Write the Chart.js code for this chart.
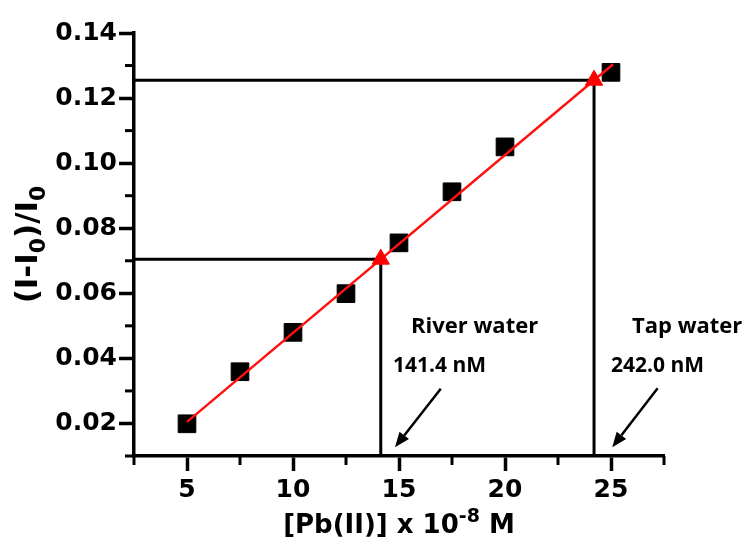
<!DOCTYPE html>
<html><head><meta charset="utf-8">
<script src="https://cdn.jsdelivr.net/npm/chart.js@4.4.1/dist/chart.umd.min.js"></script>
<style>html,body{margin:0;padding:0;background:#fff}#wrap{width:747px;height:548px}</style>
</head><body><div id="wrap"><canvas id="c" width="747" height="548"></canvas></div>
<script>
// ---- data ----
const concX = [5, 7.5, 10, 12.5, 15, 17.5, 20, 25];
const ratioY = [0.0199, 0.0359, 0.0480, 0.0599, 0.0755, 0.0912, 0.1050, 0.1279];
const fitX = [5.0, 25.1];
const fitY = [0.0205, 0.1304];
const sampleNames = ['River water', 'Tap water'];
const sampleLabels = ['141.4 nM', '242.0 nM'];
const sampleX = [14.14, 24.20];
const sampleY = [0.0705, 0.1255];
const xTicks = [5, 10, 15, 20, 25];
const xMinorTicks = [2.5, 7.5, 12.5, 17.5, 22.5, 27.5];
const yTicks = [0.02, 0.04, 0.06, 0.08, 0.10, 0.12, 0.14];
const yMinorTicks = [0.01, 0.03, 0.05, 0.07, 0.09, 0.11, 0.13];
const xRange = [2.5, 27.5];
const yRange = [0.01, 0.14];
// annotation anchors (data units)
const nameAnchorX = [15.57, 25.99];
const nameAnchorY = [0.0478, 0.0478];
const valueAnchorX = [14.72, 25.0];
const valueAnchorY = [0.0358, 0.0358];
const arrowTailX = [16.97, 27.2];
const arrowTailY = [0.0307, 0.0308];
const arrowHeadX = [14.81, 25.06];
const arrowHeadY = [0.0127, 0.0127];

const AXIS_FONT = '"DejaVu Sans", sans-serif';

const pts = (xs, ys) => xs.map((x, i) => ({x, y: ys[i]}));

const guideSets = sampleX.map((sx, i) => ({
  type: 'scatter', showLine: true,
  data: [{x: xRange[0], y: sampleY[i]}, {x: sx, y: sampleY[i]}, {x: sx, y: yRange[0]}],
  borderColor: '#000', borderWidth: 3, pointRadius: 0, fill: false, order: 3, clip: false
}));

const extras = {
  id: 'extras',
  afterDraw(chart) {
    const ctx = chart.ctx, xs = chart.scales.x, ys = chart.scales.y, ca = chart.chartArea;
    ctx.save();
    // minor ticks
    ctx.strokeStyle = '#000'; ctx.lineWidth = 3; ctx.lineCap = 'butt';
    xMinorTicks.forEach(v => {
      const p = xs.getPixelForValue(v);
      ctx.beginPath(); ctx.moveTo(p, ca.bottom); ctx.lineTo(p, ca.bottom + 9); ctx.stroke();
    });
    yMinorTicks.forEach(v => {
      const p = ys.getPixelForValue(v);
      ctx.beginPath(); ctx.moveTo(ca.left, p); ctx.lineTo(ca.left - 9, p); ctx.stroke();
    });
    // x title
    ctx.fillStyle = '#000';
    ctx.textBaseline = 'alphabetic';
    const big = 'bold 26px ' + AXIS_FONT, small = 'bold 19px ' + AXIS_FONT;
    const segsX = [['[Pb(II)] x 10', big, 0], ['-8', small, -11], [' M', big, 0]];
    let w = 0;
    segsX.forEach(s => { ctx.font = s[1]; w += ctx.measureText(s[0]).width; });
    let cx = (ca.left + ca.right) / 2 - w / 2;
    const by = ca.bottom + 77;
    segsX.forEach(s => { ctx.font = s[1]; ctx.textAlign = 'left'; ctx.fillText(s[0], cx, by + s[2]); cx += ctx.measureText(s[0]).width; });
    // y title (rotated)
    const bigY = 'bold 31px ' + AXIS_FONT, smallY = 'bold 22px ' + AXIS_FONT;
    const segsY = [['(I-I', bigY, 0], ['0', smallY, 8], [')/I', bigY, 0], ['0', smallY, 8]];
    ctx.save();
    ctx.translate(ca.left - 97, (ca.top + ca.bottom) / 2);
    ctx.rotate(-Math.PI / 2);
    w = 0;
    segsY.forEach(s => { ctx.font = s[1]; w += ctx.measureText(s[0]).width; });
    let tx = -w / 2;
    segsY.forEach(s => { ctx.font = s[1]; ctx.textAlign = 'left'; ctx.fillText(s[0], tx, s[2]); tx += ctx.measureText(s[0]).width; });
    ctx.restore();
    // annotations
    ctx.textAlign = 'left';
    sampleNames.forEach((t, i) => {
      ctx.font = 'bold 22px "Open Sans", sans-serif';
      ctx.fillText(t, xs.getPixelForValue(nameAnchorX[i]), ys.getPixelForValue(nameAnchorY[i]));
      ctx.font = 'bold 21px "Open Sans", sans-serif';
      ctx.fillText(sampleLabels[i], xs.getPixelForValue(valueAnchorX[i]), ys.getPixelForValue(valueAnchorY[i]));
      // arrow
      const x1 = xs.getPixelForValue(arrowTailX[i]), y1 = ys.getPixelForValue(arrowTailY[i]);
      const x2 = xs.getPixelForValue(arrowHeadX[i]), y2 = ys.getPixelForValue(arrowHeadY[i]);
      const ang = Math.atan2(y2 - y1, x2 - x1), hl = 15, hw = 6;
      const bx = x2 - hl * Math.cos(ang), byy = y2 - hl * Math.sin(ang);
      ctx.lineWidth = 2.5;
      ctx.beginPath(); ctx.moveTo(x1, y1); ctx.lineTo(bx, byy); ctx.stroke();
      ctx.beginPath();
      ctx.moveTo(x2, y2);
      ctx.lineTo(bx + hw * Math.sin(ang), byy - hw * Math.cos(ang));
      ctx.lineTo(bx - hw * Math.sin(ang), byy + hw * Math.cos(ang));
      ctx.closePath(); ctx.fill();
    });
    ctx.restore();
  }
};

new Chart(document.getElementById('c'), {
  type: 'scatter',
  data: {
    datasets: [
      { data: pts(sampleX, sampleY), pointStyle: 'triangle', pointRadius: 10, backgroundColor: '#ff0000', borderColor: '#ff0000', borderWidth: 1, order: 0, clip: false },
      { type: 'scatter', showLine: true, data: pts(fitX, fitY), borderColor: '#ff1111', borderWidth: 2.5, pointRadius: 0, order: 1, clip: false },
      { data: pts(concX, ratioY), pointStyle: 'rect', pointRadius: 12.5, backgroundColor: '#000', borderColor: '#000', borderWidth: 1, order: 2, clip: false },
      ...guideSets
    ]
  },
  options: {
    responsive: false, animation: false, devicePixelRatio: 1,
    layout: { padding: { top: 33, right: 83, left: 0, bottom: 0 } },
    plugins: { legend: { display: false }, tooltip: { enabled: false } },
    elements: { line: { tension: 0 } },
    scales: {
      x: {
        type: 'linear', min: xRange[0], max: xRange[1],
        afterBuildTicks: s => { s.ticks = xTicks.map(v => ({ value: v })); },
        afterFit: s => { s.height = 92; },
        ticks: { font: { family: 'DejaVu Sans', size: 25, weight: 'bold' }, color: '#000', padding: 4, maxRotation: 0, autoSkip: false },
        grid: { drawOnChartArea: false, drawTicks: true, tickLength: 15, tickWidth: 3.5, color: '#000' },
        border: { display: true, width: 3.5, color: '#000' }
      },
      y: {
        type: 'linear', min: yRange[0], max: yRange[1],
        afterBuildTicks: s => { s.ticks = yTicks.map(v => ({ value: v })); },
        afterFit: s => { s.width = 134; },
        ticks: { font: { family: 'DejaVu Sans', size: 25, weight: 'bold' }, color: '#000', padding: 2, callback: v => v.toFixed(2) },
        grid: { drawOnChartArea: false, drawTicks: true, tickLength: 15, tickWidth: 3.5, color: '#000' },
        border: { display: true, width: 3.5, color: '#000' }
      }
    }
  },
  plugins: [extras]
});
</script>
</body></html>
